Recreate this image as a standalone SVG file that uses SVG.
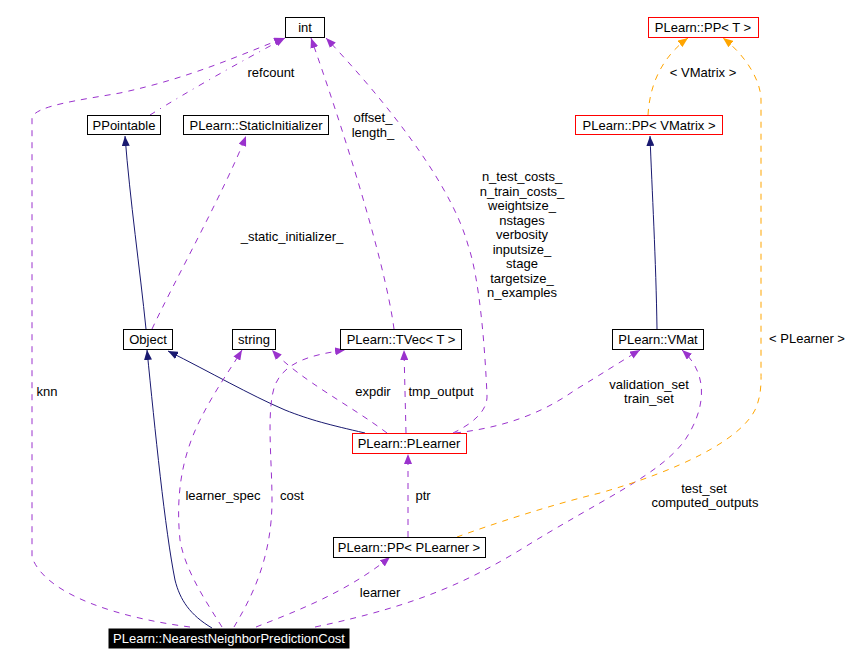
<svg xmlns="http://www.w3.org/2000/svg" width="853" height="665" viewBox="0 0 853 665">
<style>
text{font-family:"Liberation Sans",Arial,sans-serif;font-size:13px;fill:#000;text-anchor:middle}
.n rect{fill:#fff;stroke:#000;stroke-width:1}
.n.r rect{stroke:#ff0000}
.n.b rect{fill:#000}
.n.b text{fill:#fff}
.e path{fill:none;stroke-width:1}
.p{stroke:#9a32cd;stroke-dasharray:6,6}
.pd{stroke:#9a32cd;stroke-dasharray:6,6,1,6}
.s{stroke:#191970}
.o{stroke:#ffa500;stroke-dasharray:6,6}
</style>
<defs>
<marker id="ap" markerUnits="userSpaceOnUse" markerWidth="11" markerHeight="8" refX="10" refY="4" orient="auto"><path d="M0,0 L10,4 L0,8 z" fill="#9a32cd"/></marker>
<marker id="as" markerUnits="userSpaceOnUse" markerWidth="11" markerHeight="8" refX="10" refY="4" orient="auto"><path d="M0,0 L10,4 L0,8 z" fill="#191970"/></marker>
<marker id="ao" markerUnits="userSpaceOnUse" markerWidth="11" markerHeight="8" refX="10" refY="4" orient="auto"><path d="M0,0 L10,4 L0,8 z" fill="#ffa500"/></marker>
</defs>
<rect width="853" height="665" fill="#fff"/>
<g id="connectors" class="e">
<path class="p" marker-end="url(#ap)" d="M190,627 C120,618 45,595 32,557 L32,118 C34,106 80,100 120,93 C190,78 240,55 284,38"/>
<path class="pd" marker-end="url(#ap)" d="M150,115 C190,90 240,62 285,38"/>
<path class="p" marker-end="url(#ap)" d="M394,329 C385,260 340,120 311,38"/>
<path class="p" marker-end="url(#ap)" d="M453,433 C470,425 488,412 487,395 C485,350 480,280 468,245 C450,180 380,95 326,38"/>
<path class="p" marker-end="url(#ap)" d="M152,329 C175,280 225,190 246,136"/>
<path class="s" marker-end="url(#as)" d="M146,329 C140,270 130,200 125,136"/>
<path class="s" marker-end="url(#as)" d="M657,329 C656,260 652,190 650,136"/>
<path class="s" marker-end="url(#as)" d="M365,433 C330,425 310,420 285,410 C250,395 210,372 168,351"/>
<path class="s" marker-end="url(#as)" d="M212,628 C190,615 180,600 175,580 C165,530 155,430 147,350"/>
<path class="p" marker-end="url(#ap)" d="M387,433 C350,405 300,380 272,350"/>
<path class="p" marker-end="url(#ap)" d="M406,433 L404,350"/>
<path class="p" marker-end="url(#ap)" d="M455,433 C500,428 540,415 575,390 C600,375 620,362 640,350"/>
<path class="p" marker-end="url(#ap)" d="M315,627 C420,605 470,580 520,550 C600,500 660,475 685,440 C705,410 710,375 682,350"/>
<path class="p" marker-end="url(#ap)" d="M234,627 C250,600 272,560 272,500 C272,460 266,410 275,385 C285,362 310,355 345,350"/>
<path class="p" marker-end="url(#ap)" d="M222,627 C205,600 185,570 180,540 C176,500 180,460 200,420 C215,390 230,370 242,350"/>
<path class="p" marker-end="url(#ap)" d="M256,627 C300,610 350,590 390,557"/>
<path class="p" marker-end="url(#ap)" d="M408,537 L408,454"/>
<path class="o" marker-end="url(#ao)" d="M648,115 C650,80 665,55 688,38"/>
<path class="o" marker-end="url(#ao)" d="M457,537 C490,525 550,505 600,493 C680,470 740,440 755,410 C762,395 761,380 761,370 L761,100 C761,80 745,55 723,38"/>
<text x="271" y="77">refcount</text>
<text x="373" y="122">offset_</text>
<text x="373" y="137">length_</text>
<text x="522" y="181">n_test_costs_</text>
<text x="522" y="196">n_train_costs_</text>
<text x="522" y="210">weightsize_</text>
<text x="522" y="225">nstages</text>
<text x="522" y="239">verbosity</text>
<text x="522" y="254">inputsize_</text>
<text x="522" y="268">stage</text>
<text x="522" y="283">targetsize_</text>
<text x="522" y="297">n_examples</text>
<text x="292" y="241">_static_initializer_</text>
<text x="373" y="396">expdir</text>
<text x="441" y="396">tmp_output</text>
<text x="649" y="389">validation_set</text>
<text x="649" y="403">train_set</text>
<text x="807" y="343">&lt; PLearner &gt;</text>
<text x="47" y="396">knn</text>
<text x="223" y="500">learner_spec</text>
<text x="292" y="500">cost</text>
<text x="423" y="500">ptr</text>
<text x="380" y="597">learner</text>
<text x="704" y="493">test_set</text>
<text x="705" y="507">computed_outputs</text>
<text x="703" y="77">&lt; VMatrix &gt;</text>
</g>
<g id="int" class="n"><rect x="285.5" y="17.5" width="39" height="20"/><text x="305" y="32">int</text></g>
<g id="PPointable" class="n"><rect x="87.5" y="115.5" width="73" height="19"/><text x="124" y="130">PPointable</text></g>
<g id="StaticInitializer" class="n"><rect x="183.5" y="115.5" width="145" height="19"/><text x="256" y="130">PLearn::StaticInitializer</text></g>
<g id="PPT" class="n r"><rect x="648.5" y="17.5" width="110" height="20"/><text x="703" y="32">PLearn::PP&lt; T &gt;</text></g>
<g id="PPVMatrix" class="n r"><rect x="575.5" y="115.5" width="147" height="19"/><text x="649" y="130">PLearn::PP&lt; VMatrix &gt;</text></g>
<g id="Object" class="n"><rect x="123.5" y="329.5" width="49" height="20"/><text x="148" y="344">Object</text></g>
<g id="string" class="n"><rect x="232.5" y="329.5" width="43" height="20"/><text x="254" y="344">string</text></g>
<g id="TVec" class="n"><rect x="340.5" y="329.5" width="121" height="20"/><text x="401" y="344">PLearn::TVec&lt; T &gt;</text></g>
<g id="VMat" class="n"><rect x="612.5" y="329.5" width="91" height="20"/><text x="658" y="344">PLearn::VMat</text></g>
<g id="PLearner" class="n r"><rect x="352.5" y="433.5" width="114" height="20"/><text x="409" y="448">PLearn::PLearner</text></g>
<g id="PPPLearner" class="n"><rect x="333.5" y="537.5" width="152" height="20"/><text x="409" y="552">PLearn::PP&lt; PLearner &gt;</text></g>
<g id="NearestNeighborPredictionCost" class="n b"><rect x="109" y="629" width="240" height="19"/><text x="229" y="643">PLearn::NearestNeighborPredictionCost</text></g>
</svg>
